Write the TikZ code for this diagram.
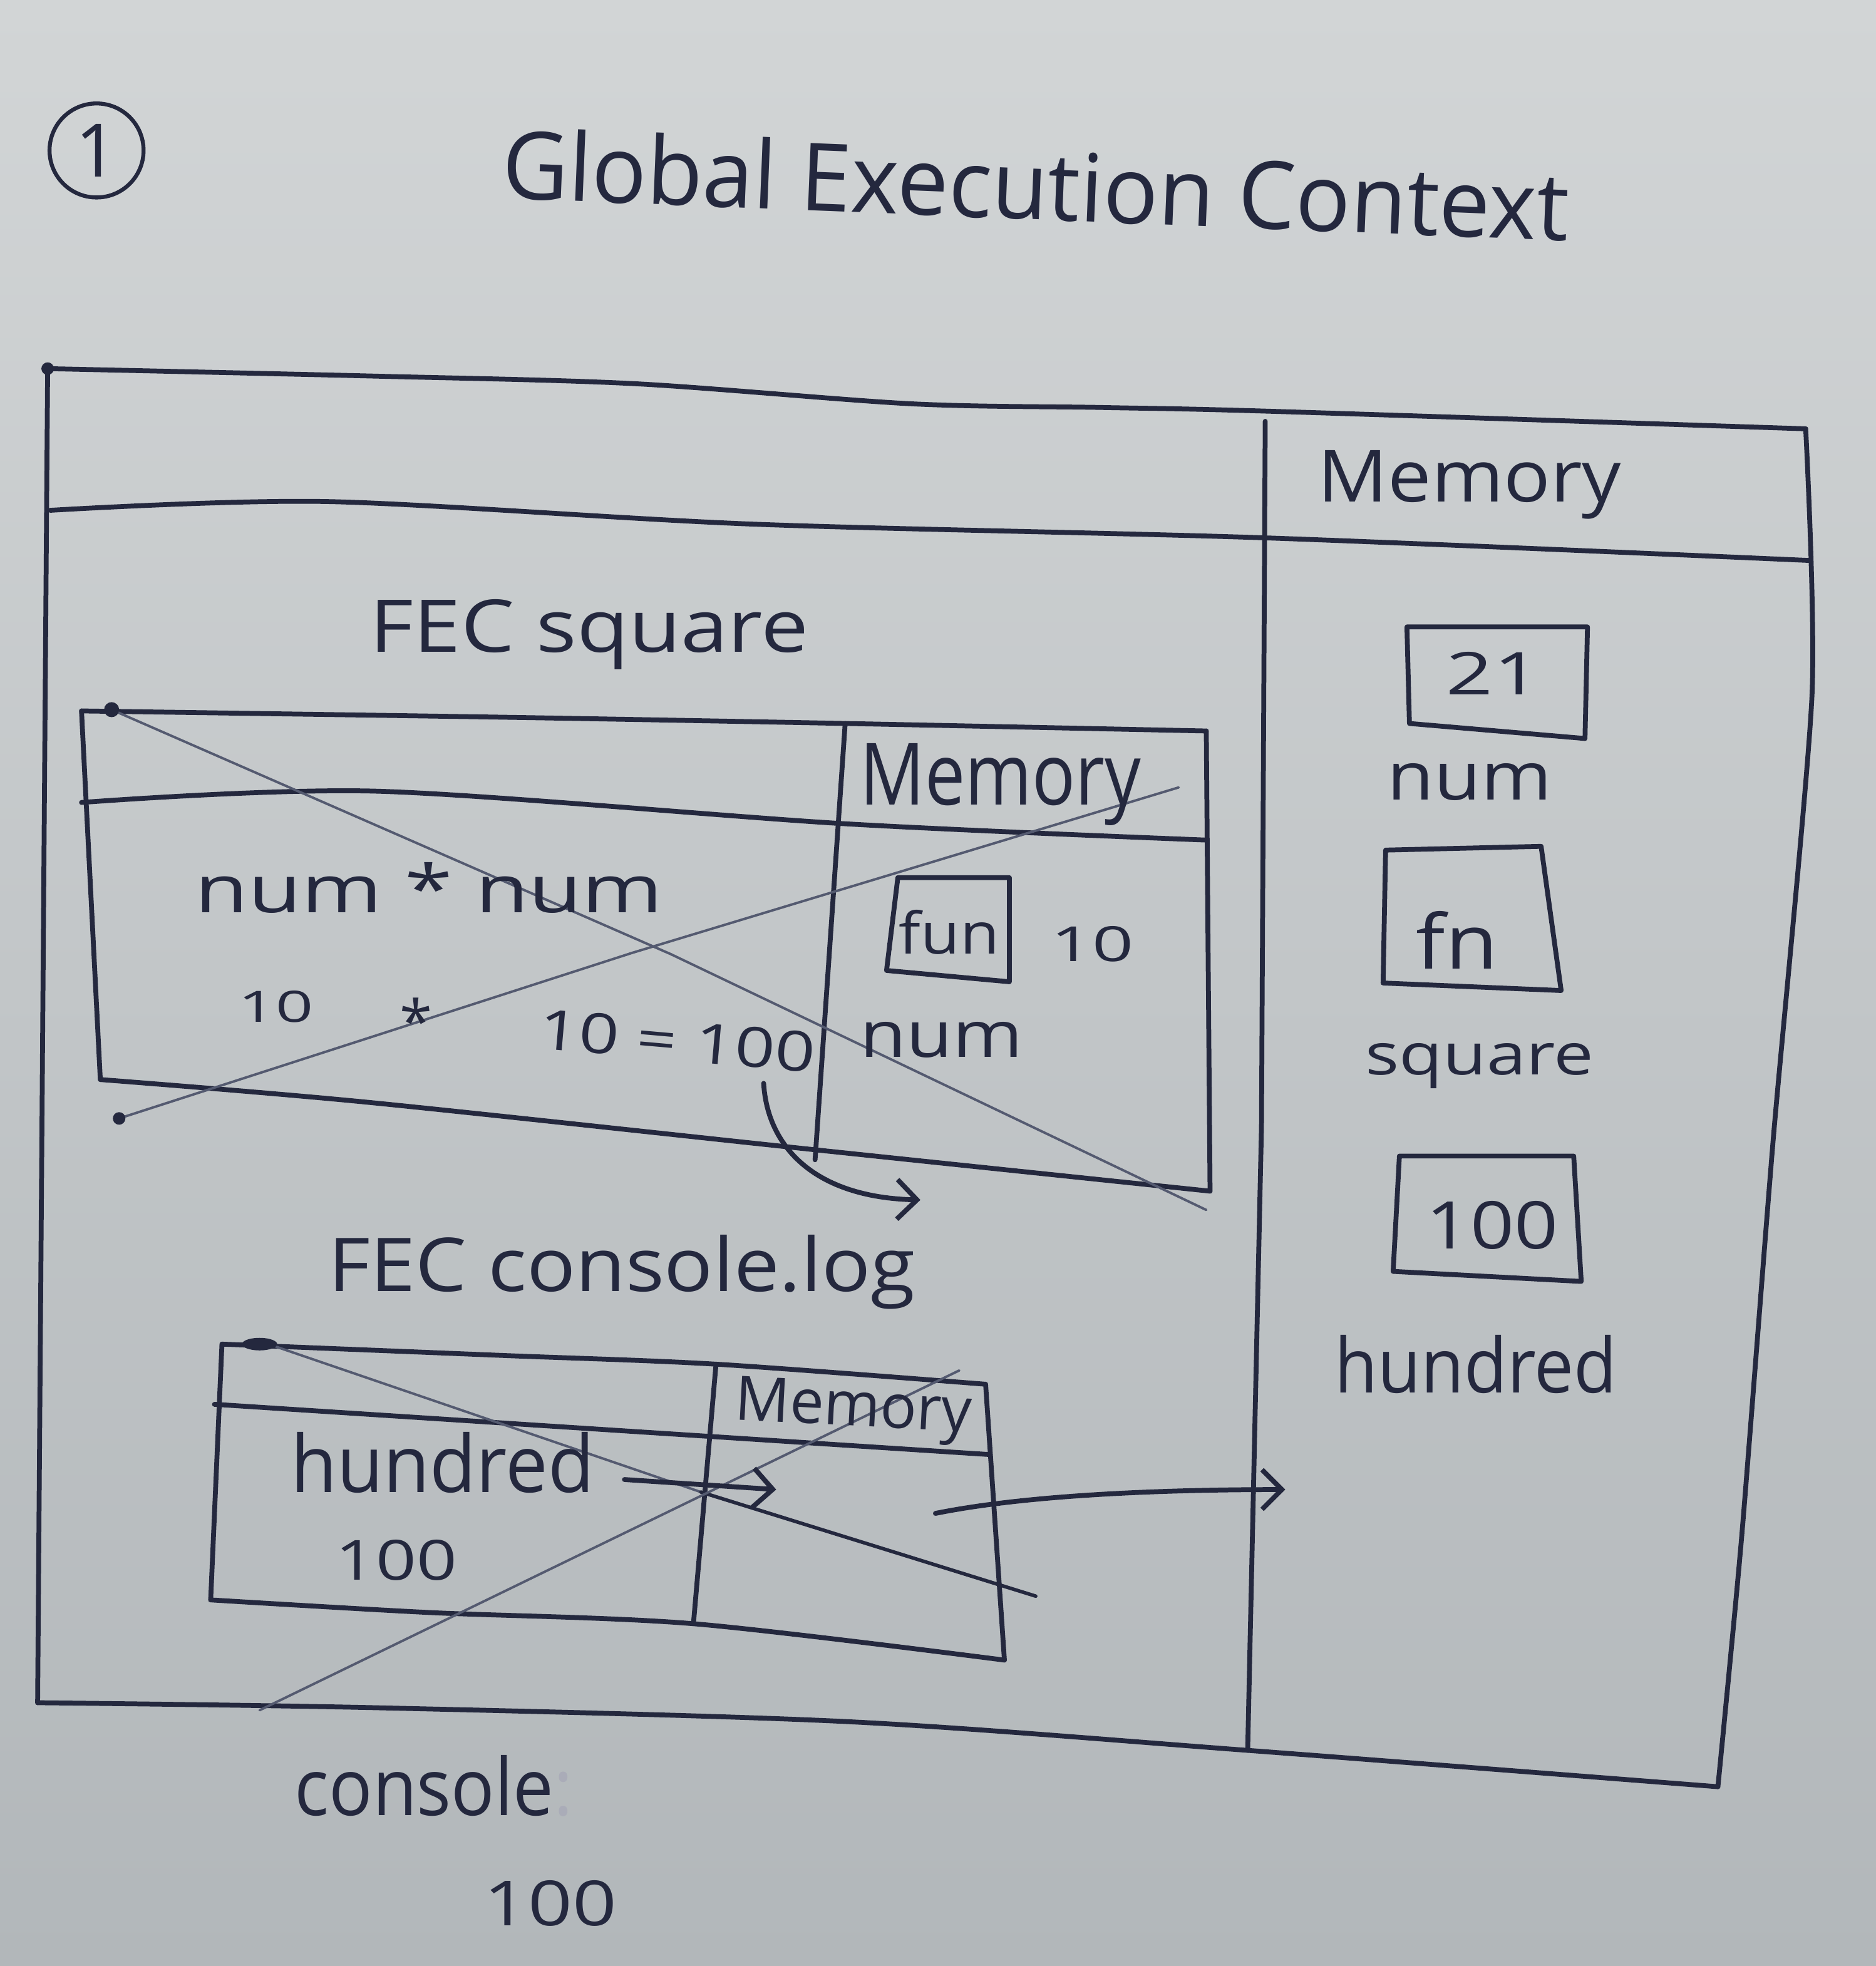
\documentclass[tikz,border=0pt]{standalone}
\usepackage{fontspec}
\setmainfont{Open Sans}
\usetikzlibrary{arrows.meta}
\definecolor{ink}{RGB}{36,40,62}
\definecolor{faint}{RGB}{84,90,112}
\definecolor{papertop}{RGB}{210,213,214}
\definecolor{paperbot}{RGB}{178,183,186}
\newlength\pxu
\setlength\pxu{0.02cm}
\newcommand\hw[3]{\resizebox{#1\pxu}{#2\pxu}{#3}}
\newcommand\fitw[2]{\resizebox{#1\pxu}{!}{#2}}
\newcommand\fith[2]{\resizebox{!}{#1\pxu}{#2}}
\begin{document}
\begin{tikzpicture}[x=0.02cm,y=-0.02cm,
  pen/.style={draw=ink,line width=2.2pt,line join=round,line cap=round},
  thinline/.style={draw=faint,line width=1.1pt,line cap=round},
  lbl/.style={inner sep=0pt,text=ink},
  bl/.style={lbl,anchor=base},
  arr/.style={pen,-{Straight Barb[length=9pt,width=18pt]}},
  blob/.style={fill=ink,draw=none}
]
\useasboundingbox (0,0) rectangle (1496,1568);
\shade[top color=papertop,bottom color=paperbot] (0,0) rectangle (1496,1568);

% ---------- title ----------
\node[pen,circle,minimum width=1.5cm,minimum height=1.4cm,inner sep=0pt,line width=1.8pt] (one) at (77,120) {\fith{42}{\color{ink}1}};
\node[lbl,rotate=-2.3] (title) at (826,147) {\hw{851}{57}{Global Execution Context}};

% ---------- global execution context box ----------
\draw[pen] plot[smooth,tension=0.5] coordinates {(38,294) (300,300) (506,306) (726,322) (879,325) (1013,328) (1440,342)};
\draw[pen] plot[smooth,tension=0.4] coordinates {(1440,342) (1445,555) (1414,910) (1389,1225) (1370,1425)};
\draw[pen] plot[smooth,tension=0.5] coordinates {(1370,1425) (995,1396) (674,1373) (300,1362) (30,1358)};
\draw[pen] (30,1358) -- (38,294);
\draw[pen] plot[smooth,tension=0.5] coordinates {(40,407) (260,400) (600,418) (1010,429) (1443,447)};
\draw[pen] (1009,336) -- (1006,899) -- (995,1396);
\fill[blob] (38,294) circle (5);

\node[bl] (gmem) at (1172,400) {\hw{242}{41}{Memory}};

% memory cells
\draw[pen] (1122,500) -- (1266,500) -- (1264,589) -- (1124,577) -- cycle;
\node[bl] (v21) at (1191,554) {\hw{75}{34}{21}};
\node[bl] (knum) at (1172,638) {\hw{131}{29}{num}};
\draw[pen] (1105,678) -- (1229,675) -- (1245,790) -- (1103,784) -- cycle;
\node[bl] (vfn) at (1162,773) {\hw{65}{46}{fn}};
\node[bl] (ksq) at (1180,857) {\hw{182}{25}{square}};
\draw[pen] (1116,922) -- (1255,922) -- (1261,1022) -- (1111,1014) -- cycle;
\node[bl] (v100) at (1190,996) {\hw{105}{38}{100}};
\node[bl] (khund) at (1177,1111) {\hw{225}{46}{hundred}};

% ---------- FEC square ----------
\node[bl] (fecsq) at (470,520) {\hw{350}{42}{FEC square}};
\draw[pen] plot[smooth,tension=0.5] coordinates {(65,567) (400,572) (674,577) (962,583)};
\draw[pen] (962,583) -- (965,950);
\draw[pen] plot[smooth,tension=0.5] coordinates {(965,950) (650,917) (292,879) (80,861)};
\draw[pen] (80,861) -- (65,567);
\draw[pen] plot[smooth,tension=0.5] coordinates {(65,640) (300,631) (674,657) (962,670)};
\draw[pen] (674,577) -- (650,925);
\draw[thinline] (89,566) -- (535,761) -- (962,965);
\draw[thinline] (95,892) -- (504,760) -- (940,628);
\fill[blob] (89,566) circle (6);
\fill[blob] (95,892) circle (5);

\node[bl] (smem) at (798,642) {\hw{224}{49}{Memory}};
\draw[pen] (716,700) -- (805,700) -- (805,783) -- (707,774) -- cycle;
\node[bl] (vfun) at (757,761) {\hw{80}{35}{fun}};
\node[bl] (v10) at (871,767) {\hw{66}{28}{10}};
\node[bl] (snum) at (751,843) {\hw{130}{28}{num}};
\node[bl] (expr) at (342,728) {\hw{373}{40}{num * num}};
\node[bl] (ten) at (220,815) {\hw{60}{25}{10}};
\node[lbl] (star) at (332,814) {\fitw{26}{*}};
\node[lbl,rotate=-5] (res) at (540,830) {\hw{221}{32}{10 = 100}};

\coordinate (c1s) at (609,864);
\coordinate (c1e) at (734,957);
\draw[arr] (c1s) .. controls (612,915) and (650,955) .. (c1e);

% ---------- FEC console.log ----------
\node[bl] (feccl) at (496,1030) {\hw{468}{45}{FEC console.log}};
\draw[pen] plot[smooth,tension=0.5] coordinates {(177,1072) (400,1081) (571,1088) (786,1104)};
\draw[pen] (786,1104) -- (801,1324);
\draw[pen] plot[smooth,tension=0.5] coordinates {(801,1324) (553,1295) (341,1286) (168,1276)};
\draw[pen] (168,1276) -- (177,1072);
\draw[pen] (171,1120) -- (788,1160);
\draw[pen] (571,1088) -- (553,1295);
\draw[thinline] (220,1074) -- (559,1190);
\draw[pen,line width=1.6pt] (559,1190) -- (826,1273);
\draw[thinline] (207,1364) -- (765,1093);
\fill[blob] (207,1072) ellipse (14 and 5);

\node[bl,rotate=-3] (cmem) at (680,1137) {\hw{189}{35}{Memory}};
\node[bl] (chund) at (353,1190) {\hw{242}{48}{hundred}};
\node[bl] (c100) at (316,1260) {\hw{97}{32}{100}};

\coordinate (c2s) at (498,1180);
\coordinate (c2e) at (619,1188);
\draw[arr] (c2s) -- (c2e);

\coordinate (c3s) at (746,1207);
\coordinate (c3e) at (1025,1188);
\draw[arr] (c3s) .. controls (820,1192) and (930,1188) .. (c3e);

% ---------- console ----------
\node[bl] (cons) at (346,1448) {\hw{222}{48}{console\textcolor{faint!50}{:}}};
\node[bl] (out) at (439,1536) {\hw{106}{36}{100}};
\end{tikzpicture}
\end{document}
